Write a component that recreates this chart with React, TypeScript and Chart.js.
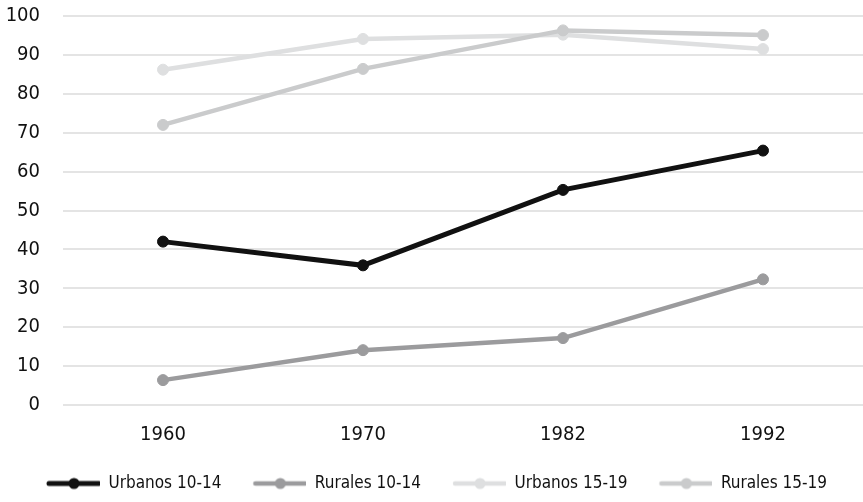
import React, { useEffect, useRef } from "react";
import { Chart, registerables } from "chart.js";

Chart.register(...registerables);

const years = ["1960", "1970", "1982", "1992"];
const urbanos1014 = [42, 35.9, 55.3, 65.4];
const rurales1014 = [6.4, 14.1, 17.2, 32.3];
const urbanos1519 = [86.2, 94.1, 95.2, 91.5];
const rurales1519 = [72, 86.4, 96.3, 95.1];
const yTicks = [0, 10, 20, 30, 40, 50, 60, 70, 80, 90, 100];

const FONT = "'Liberation Sans Narrow', 'DejaVu Sans Condensed', 'Arial Narrow', sans-serif";
const ICON_GAP = 25;
const ICON_LINE = 54;
const LEGEND_SHIFT = 15;

function legendIcon(color: string, lw: number, r: number): HTMLCanvasElement {
  const c = document.createElement("canvas");
  c.width = ICON_GAP + ICON_LINE;
  c.height = 16;
  const ctx = c.getContext("2d")!;
  ctx.strokeStyle = color;
  ctx.lineWidth = lw;
  ctx.lineCap = "round";
  ctx.beginPath();
  ctx.moveTo(ICON_GAP + 3, 8);
  ctx.lineTo(ICON_GAP + ICON_LINE - 1, 8);
  ctx.stroke();
  ctx.fillStyle = color;
  ctx.beginPath();
  ctx.arc(ICON_GAP + ICON_LINE / 2 + 1, 8, r, 0, Math.PI * 2);
  ctx.fill();
  return c;
}

const legendShift = {
  id: "legendShift",
  afterLayout(chart: any) {
    if (chart.legend) {
      chart.legend.left += LEGEND_SHIFT;
    }
  },
};

export default function App() {
  const ref = useRef<HTMLCanvasElement | null>(null);
  useEffect(() => {
    if (!ref.current) return;
    const specs = [
      { label: "Urbanos 10-14", data: urbanos1014, color: "#111111", lw: 5, r: 5.5, order: 0 },
      { label: "Rurales 10-14", data: rurales1014, color: "#9b9b9d", lw: 4.5, r: 5.5, order: 0 },
      { label: "Urbanos 15-19", data: urbanos1519, color: "#dedfe0", lw: 4.5, r: 5.5, order: 1 },
      { label: "Rurales 15-19", data: rurales1519, color: "#cacbcc", lw: 4.5, r: 5.5, order: 0 },
    ];
    const icons = specs.map((s) => legendIcon(s.color, s.lw, s.r));
    const chart = new Chart(ref.current, {
      type: "line",
      data: {
        labels: years,
        datasets: specs.map((s) => ({
          label: s.label,
          data: s.data,
          borderColor: s.color,
          backgroundColor: s.color,
          pointBackgroundColor: s.color,
          pointBorderColor: s.color,
          borderWidth: s.lw,
          pointRadius: s.r,
          pointBorderWidth: 1,
          tension: 0,
          order: s.order,
        })),
      },
      plugins: [legendShift],
      options: {
        animation: false,
        responsive: false,
        maintainAspectRatio: false,
        layout: { autoPadding: false, padding: { left: 0, right: 0, top: 0, bottom: 0 } },
        scales: {
          x: {
            offset: true,
            grid: { display: false, drawTicks: false },
            border: { display: false },
            ticks: { color: "#111", font: { family: FONT, size: 20 }, padding: 18 },
            afterFit: (axis: any) => {
              axis.height = 64;
              axis.paddingLeft = 0;
              axis.paddingRight = 0;
            },
          },
          y: {
            min: 0,
            max: 100,
            afterBuildTicks: (axis: any) => {
              axis.ticks = yTicks.map((v) => ({ value: v }));
            },
            grid: { color: "#e4e4e4", lineWidth: 2, drawTicks: false },
            border: { display: false },
            ticks: { color: "#111", font: { family: FONT, size: 20 }, padding: 23 },
            afterFit: (axis: any) => {
              axis.width = 63;
              axis.paddingTop = 16;
              axis.paddingBottom = 0;
              axis.paddingLeft = 0;
              axis.paddingRight = 0;
            },
          },
        },
        plugins: {
          tooltip: { enabled: false },
          legend: {
            position: "bottom",
            align: "start",
            labels: {
              usePointStyle: true,
              pointStyleWidth: ICON_GAP + ICON_LINE,
              padding: 6,
              color: "#111",
              font: { family: FONT, size: 17 },
              sort: (a: any, b: any) => a.datasetIndex - b.datasetIndex,
              generateLabels: (ch: any) => {
                const items = Chart.defaults.plugins.legend.labels.generateLabels(ch);
                return items.map((it: any) => ({
                  ...it,
                  pointStyle: icons[it.datasetIndex],
                }));
              },
            },
          },
        },
      },
    });
    return () => chart.destroy();
  }, []);
  return (
    <div style={{ position: "fixed", left: 0, top: 0, width: 863, height: 502, background: "#fff" }}>
      <canvas ref={ref} width={863} height={502} style={{ width: 863, height: 502 }} />
    </div>
  );
}
